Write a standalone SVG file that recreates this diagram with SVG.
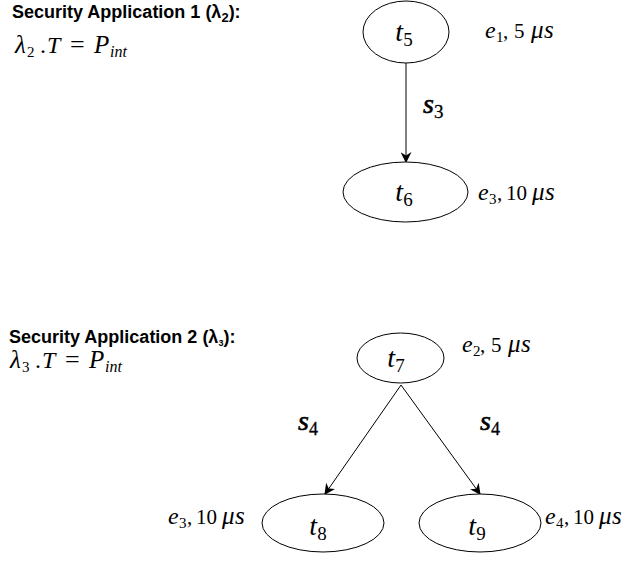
<svg xmlns="http://www.w3.org/2000/svg" width="627" height="563" viewBox="0 0 627 563">
<defs>
<marker id="arr" viewBox="0 0 10 10" refX="9" refY="5" markerWidth="11" markerHeight="11" markerUnits="userSpaceOnUse" orient="auto">
<path d="M0,0 L10,5 L0,10 L3,5 z" fill="#000"/>
</marker>
</defs>
<style>
.node{fill:#fff;stroke:#000;stroke-width:1}
.title{font-family:"Liberation Sans",Arial,sans-serif;font-weight:bold;font-size:18px;fill:#000}
.m{font-family:"Liberation Serif","Times New Roman",serif;font-size:21px;fill:#000}
.lbl{font-family:"Liberation Serif","Times New Roman",serif;font-size:28px;fill:#000}
.i{font-style:italic}
.v{font-style:italic;font-size:24px}
.g{font-style:italic;font-size:25px}
.sub{font-size:15px;font-style:normal}
.lsub{font-size:19px;font-style:normal}
.sl{font-family:"Liberation Serif","Times New Roman",serif;font-size:28px;font-style:italic;fill:#000;stroke:#000;stroke-width:0.6}
.edge{stroke:#000;stroke-width:1;fill:none;marker-end:url(#arr)}
</style>
<rect width="627" height="563" fill="#fff"/>
<g id="title1">
<text class="title" x="12" y="18">Security Application 1 (λ<tspan font-size="13" dy="4">2</tspan><tspan dy="-4">):</tspan></text>
<text class="m" y="53"><tspan class="g" x="15">λ</tspan><tspan class="sub" x="27" dy="4">2</tspan><tspan x="40" dy="-4" font-size="24">.</tspan><tspan class="v" x="47">T</tspan><tspan x="70" font-size="26">=</tspan><tspan class="g" x="94">P</tspan><tspan class="i" font-size="16" x="110" dy="4">int</tspan></text>
</g>
<g id="title2">
<text class="title" x="9" y="343">Security Application 2 (λ<tspan font-size="9" dy="3">3</tspan><tspan dy="-3">):</tspan></text>
<text class="m" y="368"><tspan class="g" x="10">λ</tspan><tspan class="sub" x="22" dy="4">3</tspan><tspan x="35" dy="-4" font-size="24">.</tspan><tspan class="v" x="42">T</tspan><tspan x="65" font-size="26">=</tspan><tspan class="g" x="89">P</tspan><tspan class="i" font-size="16" x="105" dy="4">int</tspan></text>
</g>
<g id="connectors">
<line class="edge" x1="406" y1="63" x2="406" y2="162"/>
<line class="edge" x1="401" y1="385" x2="325" y2="494"/>
<line class="edge" x1="401" y1="385" x2="480" y2="494"/>
<text class="sl" x="423" y="113">s<tspan font-size="19" font-style="normal" stroke-width="0.3" dy="5">3</tspan></text>
<text class="sl" x="298" y="430" font-size="26">s<tspan font-size="18" font-style="normal" stroke-width="0.3" dy="5">4</tspan></text>
<text class="sl" x="480" y="430" font-size="26">s<tspan font-size="18" font-style="normal" stroke-width="0.3" dy="5">4</tspan></text>
</g>
<g id="t5">
<ellipse class="node" cx="406" cy="32" rx="43" ry="31"/>
<text class="lbl" x="404" y="41" text-anchor="middle"><tspan class="i">t</tspan><tspan class="lsub" dy="5">5</tspan></text>
<text class="m" y="38"><tspan class="v" x="485">e</tspan><tspan class="sub" x="496" dy="4">1</tspan><tspan x="503" dy="-4">,</tspan><tspan x="514">5</tspan><tspan class="g" x="531">μ</tspan><tspan class="g" x="544">s</tspan></text>
</g>
<g id="t6">
<ellipse class="node" cx="405.5" cy="192" rx="62.5" ry="30"/>
<text class="lbl" x="404" y="201" text-anchor="middle"><tspan class="i">t</tspan><tspan class="lsub" dy="5">6</tspan></text>
<text class="m" y="200"><tspan class="v" x="478">e</tspan><tspan class="sub" x="489" dy="4">3</tspan><tspan x="497" dy="-4">,</tspan><tspan x="506">10</tspan><tspan class="g" x="532">μ</tspan><tspan class="g" x="545">s</tspan></text>
</g>
<g id="t7">
<ellipse class="node" cx="400.5" cy="358" rx="43.5" ry="25"/>
<text class="lbl" x="396" y="367" text-anchor="middle"><tspan class="i">t</tspan><tspan class="lsub" dy="5">7</tspan></text>
<text class="m" y="352"><tspan class="v" x="462">e</tspan><tspan class="sub" x="473" dy="4">2</tspan><tspan x="480" dy="-4">,</tspan><tspan x="491">5</tspan><tspan class="g" x="508">μ</tspan><tspan class="g" x="521">s</tspan></text>
</g>
<g id="t8">
<ellipse class="node" cx="323" cy="523" rx="61" ry="29"/>
<text class="lbl" x="318" y="535" text-anchor="middle"><tspan class="i">t</tspan><tspan class="lsub" dy="5">8</tspan></text>
<text class="m" y="524"><tspan class="v" x="168">e</tspan><tspan class="sub" x="179" dy="4">3</tspan><tspan x="187" dy="-4">,</tspan><tspan x="196">10</tspan><tspan class="g" x="222">μ</tspan><tspan class="g" x="235">s</tspan></text>
</g>
<g id="t9">
<ellipse class="node" cx="480" cy="523" rx="61" ry="29"/>
<text class="lbl" x="477" y="535" text-anchor="middle"><tspan class="i">t</tspan><tspan class="lsub" dy="5">9</tspan></text>
<text class="m" y="524"><tspan class="v" x="545">e</tspan><tspan class="sub" x="556" dy="4">4</tspan><tspan x="564" dy="-4">,</tspan><tspan x="573">10</tspan><tspan class="g" x="599">μ</tspan><tspan class="g" x="612">s</tspan></text>
</g>
</svg>
